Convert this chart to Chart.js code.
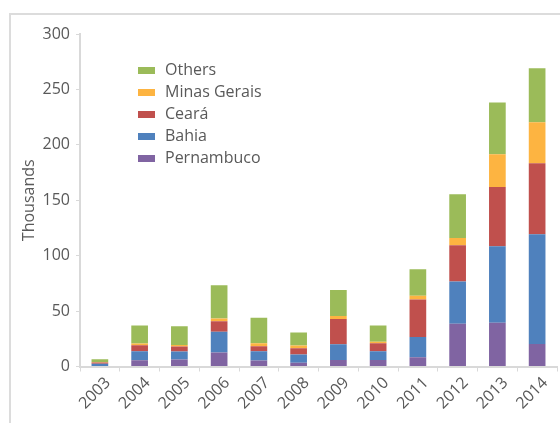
<!DOCTYPE html>
<html>
<head>
<meta charset="utf-8">
<script src="https://cdn.jsdelivr.net/npm/chart.js@4"></script>
<style>
  html, body { margin: 0; padding: 0; background: #fff; overflow: hidden; }
  #wrap { position: relative; width: 560px; height: 423px; overflow: hidden; }
  #frame {
    position: absolute; left: 9px; top: 13px; width: 600px; height: 500px;
    border-top: 2px solid #dcdcdc; border-left: 2px solid #dcdcdc;
  }
  #title {
    position: absolute; left: 0; top: -20px; white-space: nowrap;
    font-family: "Liberation Sans", Arial, sans-serif; font-weight: bold;
    font-size: 24px; line-height: 1; color: #000;
  }
  canvas { position: absolute; left: 0; top: 0; }
</style>
</head>
<body>
<div id="wrap">
  <div id="frame"></div>
  <div id="title">Installations by State (Thousands)</div>
  <canvas id="chart" width="560" height="423"></canvas>
</div>
<script>
// Values in thousands
const years = ['2003', '2004', '2005', '2006', '2007', '2008', '2009', '2010', '2011', '2012', '2013', '2014'];
const pernambuco  = [0.5, 5.7, 6.3, 12.6, 5.4, 3.3, 5.9, 5.9, 8.3, 38.6, 39.5, 20.3];
const bahia       = [2.0, 8.1, 7.2, 18.7, 8.4, 7.5, 14.1, 7.8, 18.3, 38.2, 69.1, 99.1];
const ceara       = [1.0, 5.4, 4.5, 9.5, 4.5, 5.7, 22.8, 7.2, 33.9, 32.7, 53.4, 63.9];
const minasGerais = [0.5, 1.5, 1.5, 2.4, 2.7, 2.4, 2.7, 1.4, 3.3, 6.5, 29.4, 37.0];
const others      = [2.5, 16.2, 16.8, 30.0, 22.9, 11.7, 23.5, 14.8, 24.0, 39.4, 46.9, 48.9];

const yTicks = [0, 50, 100, 150, 200, 250, 300];

// the title is cut off by the top of the picture, only its descenders show;
// size it so the brackets land where they are in the original
(function fitTitle() {
  const el = document.getElementById('title');
  const node = el.firstChild;
  const text = node.textContent;
  const rectOf = (i) => {
    const r = document.createRange();
    r.setStart(node, i); r.setEnd(node, i + 1);
    return r.getBoundingClientRect();
  };
  const open = text.indexOf('('), close = text.indexOf(')');
  let fs = 24;
  const d = rectOf(close).right - rectOf(open).left;
  fs = fs * 142 / d;
  el.style.fontSize = fs + 'px';
  el.style.top = (-fs * 0.85 - 4) + 'px';
  const shift = 513 - rectOf(close).right;
  el.style.left = shift + 'px';
})();

Chart.defaults.font.family = '"Open Sans", sans-serif';
Chart.defaults.color = '#595959';

// legend drawn inside the plot, top-left, reversed order like the original
const innerLegend = {
  id: 'innerLegend',
  afterDraw(chart) {
    const ctx = chart.ctx;
    const area = chart.chartArea;
    const sets = chart.data.datasets.slice().reverse();
    ctx.save();
    ctx.font = '16px "Open Sans", sans-serif';
    ctx.textBaseline = 'middle';
    sets.forEach((ds, i) => {
      const y = area.top + 36 + i * 22;
      ctx.fillStyle = ds.backgroundColor;
      ctx.fillRect(area.left + 58, y - 3, 17, 7);
      ctx.fillStyle = '#595959';
      ctx.fillText(ds.label, area.left + 85, y);
    });
    ctx.restore();
  }
};

const ctx = document.getElementById('chart').getContext('2d');
new Chart(ctx, {
  type: 'bar',
  data: {
    labels: years,
    datasets: [
      { label: 'Pernambuco', data: pernambuco, backgroundColor: '#8064A2' },
      { label: 'Bahia', data: bahia, backgroundColor: '#4F81BD' },
      { label: 'Ceará', data: ceara, backgroundColor: '#C0504D' },
      { label: 'Minas Gerais', data: minasGerais, backgroundColor: '#FDB441' },
      { label: 'Others', data: others, backgroundColor: '#9BBB59' }
    ]
  },
  options: {
    responsive: false,
    animation: false,
    layout: {
      padding: { top: 34, right: 3, bottom: 0, left: 0 }
    },
    datasets: {
      bar: {
        barPercentage: 0.42,
        categoryPercentage: 1,
        borderWidth: 0
      }
    },
    scales: {
      x: {
        stacked: true,
        grid: {
          display: true,
          drawOnChartArea: false,
          offset: true,
          tickLength: 5,
          color: '#d9d9d9'
        },
        border: { color: '#d9d9d9', width: 2 },
        ticks: {
          maxRotation: 45,
          minRotation: 45,
          padding: 2,
          labelOffset: 8,
          font: { size: 16 }
        },
        afterFit: (scale) => { scale.height = 56.5; }
      },
      y: {
        stacked: true,
        min: 0,
        max: 300,
        afterBuildTicks: (scale) => { scale.ticks = yTicks.map(v => ({ value: v })); },
        grid: {
          display: true,
          drawOnChartArea: false,
          tickLength: 4,
          color: '#d9d9d9'
        },
        border: { color: '#d9d9d9', width: 2 },
        ticks: {
          padding: 6,
          font: { size: 16 }
        },
        title: {
          display: true,
          text: 'Thousands',
          color: '#595959',
          font: { size: 16 },
          padding: { top: 20, bottom: 0 }
        },
        afterFit: (scale) => { scale.width = 80; }
      }
    },
    plugins: {
      legend: { display: false },
      tooltip: { enabled: false }
    }
  },
  plugins: [innerLegend]
});
</script>
</body>
</html>
